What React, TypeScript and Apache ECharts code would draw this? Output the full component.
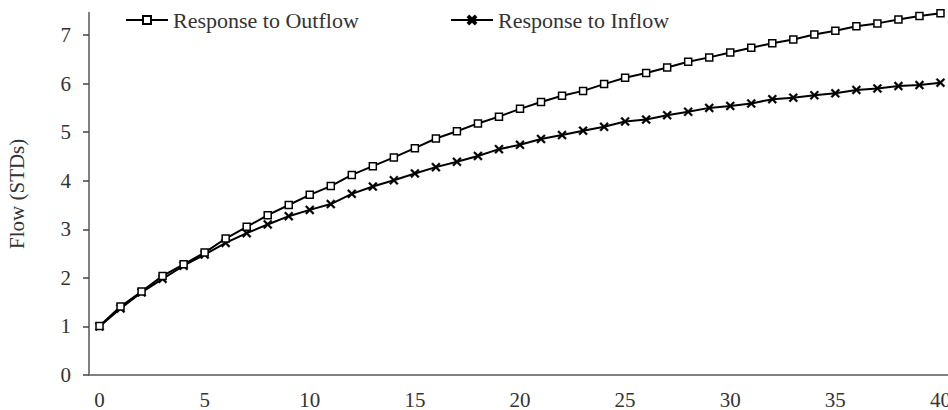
import React, { useEffect, useRef } from "react";
import * as echarts from "echarts";

const categories: string[] = Array.from({ length: 41 }, (_, i) => String(i));
const outflow: number[] = [
  1.01, 1.41, 1.72, 2.04, 2.28, 2.52, 2.81, 3.05, 3.29, 3.5,
  3.71, 3.89, 4.12, 4.3, 4.48, 4.67, 4.87, 5.02, 5.18, 5.32,
  5.48, 5.62, 5.75, 5.85, 5.99, 6.12, 6.22, 6.33, 6.45, 6.54,
  6.64, 6.74, 6.83, 6.91, 7.01, 7.09, 7.18, 7.24, 7.32, 7.39,
  7.45,
];
const inflow: number[] = [
  1.0, 1.37, 1.7, 1.98, 2.25, 2.48, 2.72, 2.92, 3.1, 3.27,
  3.4, 3.52, 3.73, 3.88, 4.01, 4.15, 4.28, 4.39, 4.51, 4.65,
  4.74, 4.86, 4.94, 5.03, 5.11, 5.22, 5.26, 5.35, 5.42, 5.5,
  5.54, 5.59, 5.68, 5.71, 5.76, 5.8, 5.87, 5.9, 5.95, 5.97,
  6.02,
];
const yTicks: number[] = [0, 1, 2, 3, 4, 5, 6, 7];
const seriesNames: string[] = ["Response to Outflow", "Response to Inflow"];
const yAxisName = "Flow (STDs)";

const FONT = "Liberation Serif";
const TEXT = "#333";
const AXIS = "#808080";
const CROSS =
  "path://M0,1.5L1.5,0L5,3.5L8.5,0L10,1.5L6.5,5L10,8.5L8.5,10L5,6.5L1.5,10L0,8.5L3.5,5Z";

export default function App() {
  const ref = useRef<HTMLDivElement>(null);
  useEffect(() => {
    if (!ref.current) return;
    const chart = echarts.init(ref.current, undefined, { renderer: "svg" });
    const legendText = { fontFamily: FONT, fontSize: 22, color: TEXT };
    chart.setOption({
      animation: false,
      backgroundColor: "#fff",
      textStyle: { fontFamily: FONT },
      legend: [
        {
          data: [seriesNames[0]],
          left: 125,
          top: 9,
          padding: 0,
          itemWidth: 42,
          itemHeight: 10,
          textStyle: legendText,
        },
        {
          data: [seriesNames[1]],
          left: 450,
          top: 9,
          padding: 0,
          itemWidth: 42,
          itemHeight: 10,
          textStyle: legendText,
        },
      ],
      grid: {
        left: 89,
        right: -3,
        top: 12.7,
        bottom: 35,
        containLabel: false,
        outerBoundsMode: "none",
      },
      xAxis: {
        type: "category",
        data: categories,
        boundaryGap: true,
        axisLine: { lineStyle: { color: AXIS, width: 2 } },
        axisTick: {
          interval: 0,
          length: 6,
          alignWithLabel: false,
          lineStyle: { color: "#444", width: 1.5 },
        },
        axisLabel: {
          interval: 4,
          margin: 14,
          fontFamily: FONT,
          fontSize: 21,
          color: TEXT,
        },
        splitLine: { show: false },
      },
      yAxis: {
        type: "value",
        min: 0,
        max: 7.46,
        interval: 1,
        name: yAxisName,
        nameLocation: "middle",
        nameGap: 62,
        nameRotate: 90,
        nameTextStyle: { fontFamily: FONT, fontSize: 21, color: TEXT },
        axisLine: { show: true, lineStyle: { color: AXIS, width: 2 } },
        axisTick: {
          show: true,
          length: 6,
          customValues: yTicks,
          lineStyle: { color: "#444", width: 1.5 },
        },
        axisLabel: {
          margin: 18,
          customValues: yTicks,
          fontFamily: FONT,
          fontSize: 21,
          color: TEXT,
        },
        splitLine: { show: false },
      },
      series: [
        {
          name: seriesNames[1],
          type: "line",
          data: inflow,
          symbol: CROSS,
          symbolSize: 9,
          lineStyle: { color: "#000", width: 2 },
          itemStyle: { color: "#000", borderColor: "#000", borderWidth: 0.4 },
        },
        {
          name: seriesNames[0],
          type: "line",
          data: outflow,
          symbol: "rect",
          symbolSize: 7,
          lineStyle: { color: "#000", width: 2 },
          itemStyle: { color: "#fff", borderColor: "#000", borderWidth: 1.5 },
        },
      ],
    });
    return () => chart.dispose();
  }, []);
  return (
    <div
      ref={ref}
      style={{ position: "absolute", left: 0, top: 0, width: 948, height: 410 }}
    />
  );
}
